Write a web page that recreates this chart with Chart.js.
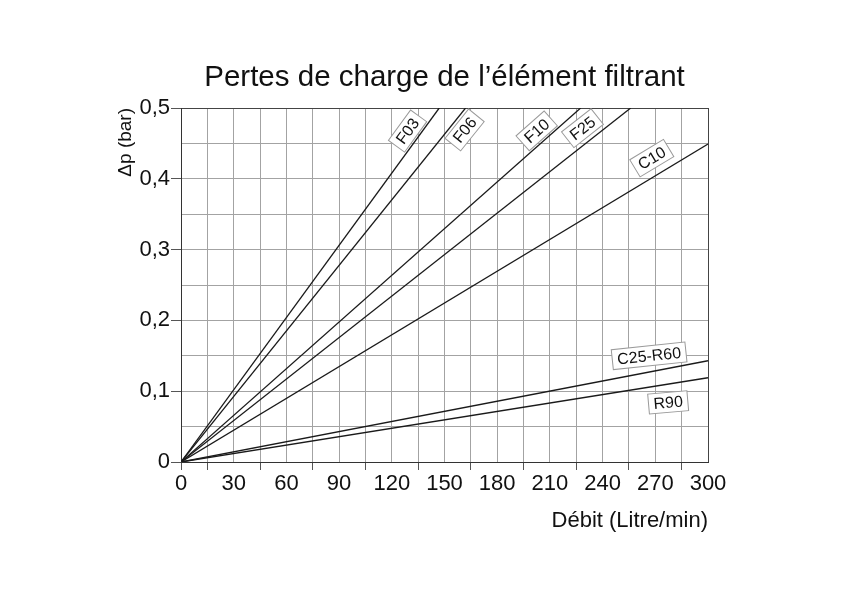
<!DOCTYPE html>
<html>
<head>
<meta charset="utf-8">
<style>
  html, body { margin: 0; padding: 0; background: #fff; }
  #wrap { width: 842px; height: 595px; }
</style>
<script src="https://cdn.jsdelivr.net/npm/chart.js"></script>
</head>
<body>
<div id="wrap"><canvas id="lossChart" width="842" height="595"></canvas></div>
<script>
    // Filter element series: straight lines from the origin to an end point
    const series = ['F03', 'F06', 'F10', 'F25', 'C10', 'C25-R60', 'R90'];
    const flowEnd = [147, 162, 227.5, 256, 300, 300, 300];      // Litre/min
    const dpEnd = [0.5, 0.5, 0.5, 0.5, 0.449, 0.143, 0.119];     // bar

    // Where each label box sits along its line (fraction t, perpendicular offset px, optional fixed angle)
    const labelPlace = [
        { t: 0.915, off: 12 },
        { t: 0.961, off: -13 },
        { t: 0.910, off: 12 },
        { t: 0.912, off: 14 },
        { t: 0.910, off: 17 },
        { t: 0.894, off: 16, rot: -6 },
        { t: 0.919, off: -18, rot: -5 }
    ];

    const fontFamily = '"Liberation Sans", Arial, Helvetica, sans-serif';

    const datasets = series.map((name, i) => ({
        label: name,
        data: [{ x: 0, y: 0 }, { x: flowEnd[i], y: dpEnd[i] }],
        borderColor: '#1a1a1a',
        borderWidth: 1.3,
        pointRadius: 0,
        fill: false
    }));

    // Draw the rotated boxed labels next to each line
    const lineLabels = {
        id: 'lineLabels',
        afterDatasetsDraw(chart) {
            const { ctx, scales: { x, y } } = chart;
            chart.data.datasets.forEach((ds, i) => {
                const x0 = x.getPixelForValue(ds.data[0].x), y0 = y.getPixelForValue(ds.data[0].y);
                const x1 = x.getPixelForValue(ds.data[1].x), y1 = y.getPixelForValue(ds.data[1].y);
                const dx = x1 - x0, dy = y1 - y0, len = Math.hypot(dx, dy);
                const ux = dx / len, uy = dy / len;
                const nx = uy, ny = -ux;
                const pl = labelPlace[i];
                const cx = x0 + ux * len * pl.t + nx * pl.off;
                const cy = y0 + uy * len * pl.t + ny * pl.off;
                const ang = pl.rot !== undefined ? pl.rot * Math.PI / 180 : Math.atan2(dy, dx);
                ctx.save();
                ctx.translate(cx, cy);
                ctx.rotate(ang);
                ctx.font = '16px ' + fontFamily;
                const w = ctx.measureText(ds.label).width + 10, h = 20;
                ctx.fillStyle = '#fff';
                ctx.fillRect(-w / 2, -h / 2, w, h);
                ctx.strokeStyle = '#9a9a9a';
                ctx.lineWidth = 1;
                ctx.strokeRect(-w / 2, -h / 2, w, h);
                ctx.fillStyle = '#111';
                ctx.textAlign = 'center';
                ctx.textBaseline = 'middle';
                ctx.fillText(ds.label, 0, 1);
                ctx.restore();
            });
        }
    };

    const isMajorX = v => Math.round(v) % 30 === 0;
    const isMajorY = v => Math.round(v * 100) % 10 === 0;

    new Chart(document.getElementById('lossChart').getContext('2d'), {
        type: 'line',
        data: { datasets: datasets },
        options: {
            responsive: false,
            animation: false,
            layout: { padding: { left: 110, right: 134, top: 0, bottom: 58 } },
            plugins: {
                legend: { display: false },
                tooltip: { enabled: false },
                title: {
                    display: true,
                    fullSize: false,
                    text: 'Pertes de charge de l’élément filtrant',
                    color: '#111',
                    font: { family: fontFamily, size: 29.5, weight: 'normal' },
                    padding: { top: 60, bottom: 12.6 }
                }
            },
            scales: {
                x: {
                    type: 'linear',
                    min: 0,
                    max: 300,
                    afterFit: s => { s.height = 75; },
                    ticks: {
                        stepSize: 15,
                        autoSkip: false,
                        maxRotation: 0,
                        padding: 1,
                        color: '#111',
                        font: { family: fontFamily, size: 22 },
                        callback: v => isMajorX(v) ? String(v) : ''
                    },
                    grid: {
                        color: c => (c.tick && c.tick.value === 300) ? '#444' : '#a3a3a3',
                        lineWidth: 1,
                        tickLength: 8,
                        tickColor: c => (c.tick && isMajorX(c.tick.value) && c.tick.value !== 0) ? 'rgba(0,0,0,0)' : '#555'
                    },
                    border: { color: '#333', width: 1 },
                    title: {
                        display: true,
                        text: 'Débit (Litre/min)',
                        align: 'end',
                        color: '#111',
                        font: { family: fontFamily, size: 22 },
                        padding: { top: 0, bottom: 3 }
                    }
                },
                y: {
                    type: 'linear',
                    min: 0,
                    max: 0.5,
                    afterFit: s => { s.width = 71; },
                    ticks: {
                        stepSize: 0.05,
                        autoSkip: false,
                        padding: 1,
                        color: '#111',
                        font: { family: fontFamily, size: 22 },
                        callback: v => {
                            if (!isMajorY(v)) return '';
                            return v === 0 ? '0' : v.toFixed(1).replace('.', ',');
                        }
                    },
                    grid: {
                        color: c => (c.tick && Math.abs(c.tick.value - 0.5) < 1e-6) ? '#444' : '#a3a3a3',
                        lineWidth: 1,
                        tickLength: 10,
                        tickColor: c => (c.tick && isMajorY(c.tick.value)) ? '#555' : 'rgba(0,0,0,0)'
                    },
                    border: { color: '#333', width: 1 },
                    title: {
                        display: true,
                        text: 'Δp (bar)',
                        align: 'end',
                        color: '#111',
                        font: { family: fontFamily, size: 19 },
                        padding: { top: 4, bottom: 0 }
                    }
                }
            }
        },
        plugins: [lineLabels]
    });
</script>
</body>
</html>
